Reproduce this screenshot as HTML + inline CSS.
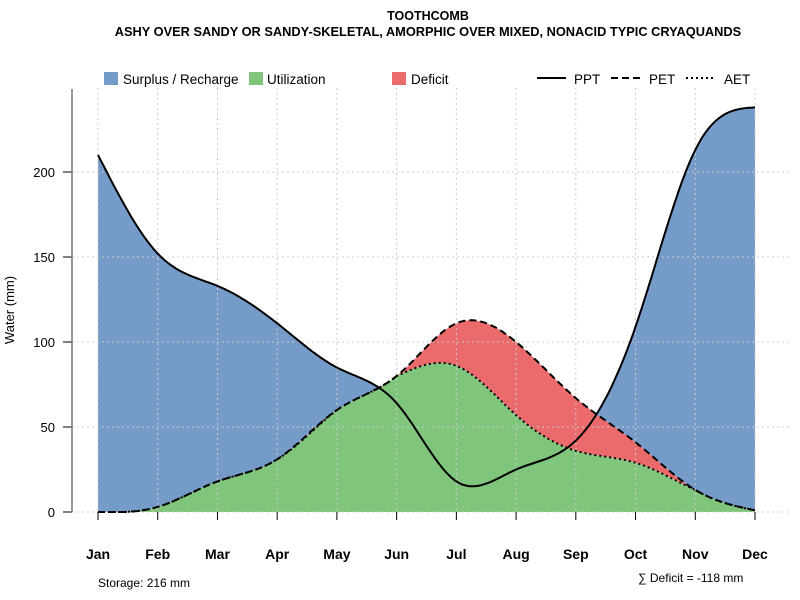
<!DOCTYPE html>
<html><head><meta charset="utf-8"><style>
body{margin:0;background:#fff;}
svg{display:block;font-family:"Liberation Sans",sans-serif;}
</style></head><body>
<svg id="c" width="800" height="600">
<text x="428" y="20" text-anchor="middle" font-size="12.5" font-weight="bold">TOOTHCOMB</text>
<text x="428" y="36" text-anchor="middle" font-size="12.8" font-weight="bold">ASHY OVER SANDY OR SANDY-SKELETAL, AMORPHIC OVER MIXED, NONACID TYPIC CRYAQUANDS</text>
<g id="fills"></g><g id="grid"></g><g id="lines"></g><g id="axes"></g>
<g font-size="13.5">
<rect x="104" y="72" width="14" height="13" fill="#759CC9"/>
<text x="123" y="84">Surplus / Recharge</text>
<rect x="249" y="72" width="14" height="13" fill="#7FC57C"/>
<text x="267" y="84">Utilization</text>
<rect x="392" y="72" width="14" height="13" fill="#EB6B6C"/>
<text x="411" y="84">Deficit</text>
<line x1="537" y1="78" x2="566" y2="78" stroke="#000" stroke-width="2"/>
<text x="574" y="84">PPT</text>
<line x1="611" y1="78" x2="640" y2="78" stroke="#000" stroke-width="2" stroke-dasharray="7,4"/>
<text x="649" y="84">PET</text>
<line x1="686" y1="78" x2="715" y2="78" stroke="#000" stroke-width="2" stroke-dasharray="2,3"/>
<text x="724" y="84">AET</text>
</g>
<text x="98" y="587" font-size="12">Storage: 216 mm</text>
<text x="638" y="582" font-size="12">∑ Deficit = -118 mm</text>
<text transform="translate(14,310) rotate(-90)" text-anchor="middle" font-size="13">Water (mm)</text>
</svg>
<script>
const months=["Jan","Feb","Mar","Apr","May","Jun","Jul","Aug","Sep","Oct","Nov","Dec"];
const ppt=[210,152,133,111,85,64,18,25,42,109,213,238];
const pet=[0,3,18,31,60,80,111,100,67,41,13,1];
const aet=[0,3,18,31,60,80,86,57,36,29,13,1];
const yTicks=[0,50,100,150,200];
const NS="http://www.w3.org/2000/svg";
const X=i=>98+i*(755-98)/11, Y=v=>512-v*1.7;
function spline(y){const n=y.length,M=new Array(n).fill(0),c=new Array(n).fill(0),d=new Array(n).fill(0);
 for(let i=1;i<n-1;i++){const r=6*(y[i+1]-2*y[i]+y[i-1]);const m=4-(i>1?c[i-1]:0);c[i]=1/m;d[i]=(r-(i>1?d[i-1]:0))/m;}
 for(let i=n-2;i>=1;i--)M[i]=d[i]-c[i]*M[i+1];
 return t=>{let i=Math.min(Math.floor(t),n-2);const u=t-i;
  return (1-u)*y[i]+u*y[i+1]+((Math.pow(1-u,3)-(1-u))*M[i]+(u*u*u-u)*M[i+1])/6;};}
const fp=spline(ppt),fe=spline(pet),fa=spline(aet);
const S=[];for(let k=0;k<=440;k++)S.push(k*11/440);
const P=S.map(t=>Math.max(0,fp(t))),E=S.map(t=>Math.max(0,fe(t))),A=S.map((t,k)=>Math.min(E[k],Math.max(0,fa(t))));
function band(lo,hi,fill,name){let d="";S.forEach((t,k)=>d+=(k?"L":"M")+X(t).toFixed(1)+","+Y(hi[k]).toFixed(1));
 for(let k=S.length-1;k>=0;k--)d+="L"+X(S[k]).toFixed(1)+","+Y(lo[k]).toFixed(1);
 const p=document.createElementNS(NS,"path");p.setAttribute("d",d+"Z");p.setAttribute("fill",fill);
 
 
 document.getElementById("fills").appendChild(p);}
band(E,P.map((v,k)=>Math.max(v,E[k])),"#759CC9","surplus-area");
band(A,E,"#EB6B6C","deficit-area");
band(S.map(()=>0),A,"#7FC57C","utilization-area");
function line(arr,dash,name){let d="";S.forEach((t,k)=>d+=(k?"L":"M")+X(t).toFixed(1)+","+Y(arr[k]).toFixed(1));
 const p=document.createElementNS(NS,"path");p.setAttribute("d",d);p.setAttribute("fill","none");p.setAttribute("stroke","#000");p.setAttribute("stroke-width","2");
 if(dash)p.setAttribute("stroke-dasharray",dash);
 
 
 document.getElementById("lines").appendChild(p);}
line(P,null,"ppt-line");line(E,"7,4","pet-line");line(A,"2,3","aet-line");
const g=document.getElementById("grid"),ax=document.getElementById("axes");
function mk(par,tag,at){const e=document.createElementNS(NS,tag);for(const k in at)e.setAttribute(k,at[k]);par.appendChild(e);return e;}
months.forEach((m,i)=>{
 const gl=mk(g,"line",{x1:X(i),x2:X(i),y1:88,y2:512,stroke:"#ccc","stroke-dasharray":"2,3"});
 
 
 const tk=mk(ax,"line",{x1:X(i),x2:X(i),y1:512,y2:520,stroke:"#000"});
 
 
 const tx=mk(ax,"text",{x:X(i),y:559,"text-anchor":"middle","font-size":"14","font-weight":"bold"});tx.textContent=m;
 
 
});
yTicks.forEach(v=>{
 const gl=mk(g,"line",{x1:72,x2:790,y1:Y(v),y2:Y(v),stroke:"#ccc","stroke-dasharray":"2,3"});
 
 
 const tk=mk(ax,"line",{x1:63,x2:72,y1:Y(v),y2:Y(v),stroke:"#000"});
 
 
 const tx=mk(ax,"text",{x:55,y:Y(v)+5,"text-anchor":"end","font-size":"13"});tx.textContent=v;
 
 
});
const al=mk(ax,"line",{x1:72,x2:72,y1:89,y2:512,stroke:"#777","stroke-width":"1.5"});


</script>
</body></html>
